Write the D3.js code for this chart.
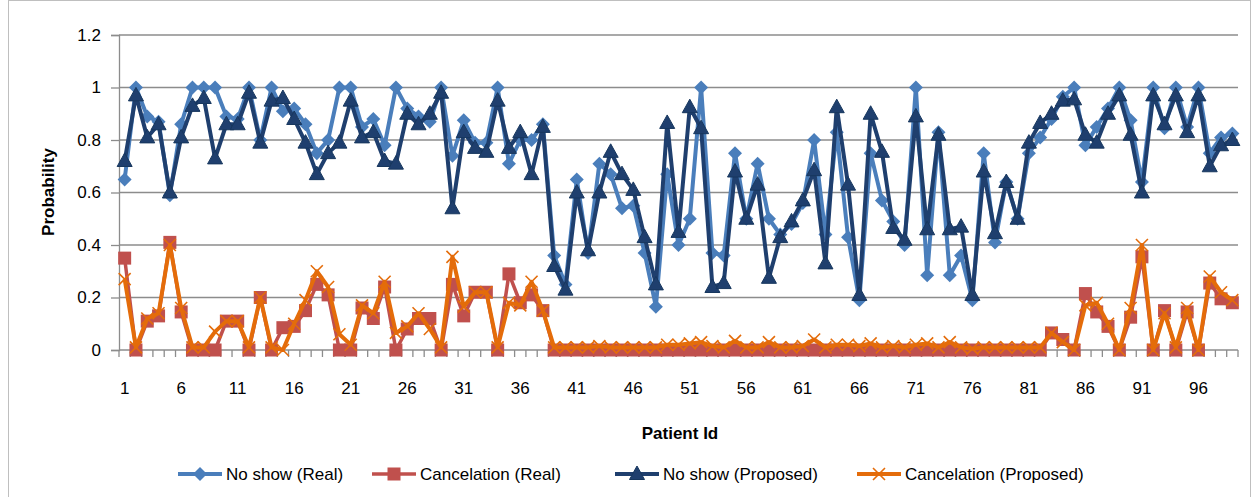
<!DOCTYPE html>
<html lang="en">
<head>
    <meta charset="UTF-8">
    <title>Probability by patient</title>
    <script src="https://d3js.org/d3.v7.min.js"></script>
    <style>
        body { margin: 0; background: #fff; }
        svg { display: block; font-family: "Liberation Sans", Arial, sans-serif; }
        .grid line { stroke: #8c8c8c; stroke-width: 1.3; }
        .axis path, .axis line { stroke: #8c8c8c; stroke-width: 1.3; }
        .axis text { font-size: 17px; fill: #000; }
        .title { font-weight: bold; font-size: 17px; }
        .legend text { font-size: 17px; }
    </style>
</head>
<body>
<script>
    const width = 1252;
    const height = 497;

    // patient ids 1..99
    const patients = d3.range(1, 100);

    const noShowReal = [
        0.65, 1.0, 0.89, 0.87, 0.59, 0.86, 1.0, 1.0, 1.0, 0.89,
        0.88, 1.0, 0.80, 1.0, 0.91, 0.92, 0.86, 0.75, 0.80, 1.0,
        1.0, 0.85, 0.88, 0.78, 1.0, 0.92, 0.89, 0.87, 1.0, 0.74,
        0.875, 0.79, 0.79, 1.0, 0.71, 0.80, 0.80, 0.86, 0.36, 0.25,
        0.65, 0.37, 0.71, 0.67, 0.54, 0.55, 0.37, 0.165, 0.67, 0.40,
        0.50, 1.0, 0.37, 0.36, 0.75, 0.50, 0.71, 0.50, 0.44, 0.48,
        0.56, 0.80, 0.44, 0.83, 0.43, 0.19, 0.75, 0.57, 0.49, 0.40,
        1.0, 0.285, 0.83, 0.285, 0.36, 0.19, 0.75, 0.41, 0.64, 0.50,
        0.75, 0.81, 0.88, 0.965, 1.0, 0.78, 0.85, 0.92, 1.0, 0.875,
        0.64, 1.0, 0.845, 1.0, 0.85, 1.0, 0.75, 0.81, 0.825
    ];

    const cancelReal = [
        0.35, 0, 0.11, 0.13, 0.41, 0.145, 0, 0, 0, 0.11,
        0.11, 0, 0.20, 0, 0.085, 0.09, 0.15, 0.25, 0.21, 0,
        0, 0.16, 0.12, 0.24, 0, 0.08, 0.12, 0.12, 0, 0.25,
        0.13, 0.22, 0.22, 0, 0.29, 0.18, 0.21, 0.15, 0, 0,
        0, 0, 0, 0, 0, 0, 0, 0, 0, 0,
        0, 0, 0, 0, 0, 0, 0, 0, 0, 0,
        0, 0, 0, 0, 0, 0, 0, 0, 0, 0,
        0, 0, 0, 0, 0, 0, 0, 0, 0, 0,
        0, 0, 0.065, 0.04, 0, 0.215, 0.145, 0.09, 0, 0.125,
        0.355, 0, 0.15, 0, 0.145, 0, 0.255, 0.195, 0.18
    ];

    const noShowProposed = [
        0.72, 0.97, 0.81, 0.86, 0.60, 0.81, 0.93, 0.96, 0.73, 0.86,
        0.86, 0.98, 0.79, 0.95, 0.96, 0.88, 0.79, 0.67, 0.75, 0.79,
        0.95, 0.81, 0.83, 0.72, 0.71, 0.90, 0.86, 0.90, 0.98, 0.54,
        0.83, 0.77, 0.755, 0.95, 0.77, 0.83, 0.67, 0.85, 0.32, 0.23,
        0.60, 0.38, 0.60, 0.755, 0.67, 0.61, 0.43, 0.25, 0.865, 0.45,
        0.925, 0.845, 0.24, 0.255, 0.68, 0.50, 0.63, 0.275, 0.43, 0.49,
        0.57, 0.685, 0.33, 0.925, 0.63, 0.21, 0.90, 0.755, 0.465, 0.42,
        0.89, 0.46, 0.82, 0.46, 0.47, 0.21, 0.68, 0.445, 0.64, 0.50,
        0.79, 0.865, 0.90, 0.95, 0.955, 0.82, 0.79, 0.90, 0.97, 0.82,
        0.60, 0.97, 0.86, 0.97, 0.83, 0.97, 0.70, 0.78, 0.80
    ];

    const cancelProposed = [
        0.27, 0.01, 0.12, 0.14, 0.40, 0.16, 0.01, 0.01, 0.07, 0.11,
        0.11, 0.01, 0.20, 0.01, 0.0, 0.10, 0.19, 0.30, 0.24, 0.06,
        0.02, 0.17, 0.14, 0.26, 0.065, 0.09, 0.14, 0.08, 0.01, 0.355,
        0.165, 0.22, 0.22, 0.01, 0.18, 0.17, 0.26, 0.15, 0.01, 0.01,
        0.01, 0.01, 0.015, 0.01, 0.01, 0.01, 0.01, 0.01, 0.02, 0.02,
        0.025, 0.03, 0.015, 0.01, 0.035, 0.01, 0.01, 0.03, 0.01, 0.01,
        0.015, 0.04, 0.01, 0.02, 0.02, 0.015, 0.025, 0.01, 0.015, 0.01,
        0.02, 0.025, 0.01, 0.03, 0.01, 0.005, 0.01, 0.01, 0.01, 0.01,
        0.01, 0.01, 0.065, 0.03, 0.0, 0.17, 0.18, 0.10, 0.0, 0.16,
        0.40, 0.0, 0.14, 0.01, 0.16, 0.0, 0.28, 0.22, 0.19
    ];

    const yTicks = [0, 0.2, 0.4, 0.6, 0.8, 1, 1.2];
    const xTickLabels = patients.filter(p => p % 5 === 1);

    const series = [
        {name: "No show (Real)", values: noShowReal, color: "#4a7ebb", marker: "diamond", lw: 4},
        {name: "Cancelation (Real)", values: cancelReal, color: "#c0504d", marker: "square", lw: 3.5},
        {name: "No show (Proposed)", values: noShowProposed, color: "#1f3f6e", marker: "triangle", lw: 4},
        {name: "Cancelation (Proposed)", values: cancelProposed, color: "#e46c0a", marker: "cross", lw: 4}
    ];

    const svg = d3.select("body").append("svg")
        .attr("width", width).attr("height", height);

    // chart frame
    svg.append("rect")
        .attr("x", 8.5).attr("y", 0.5)
        .attr("width", width - 10).attr("height", height + 5)
        .attr("fill", "none").attr("stroke", "#bfbfbf");

    const plot = {left: 119, right: 1238, top: 35, bottom: 350};

    const x = d3.scaleBand().domain(patients).range([plot.left, plot.right]);
    const y = d3.scaleLinear().domain([0, 1.2]).range([plot.bottom, plot.top]);
    const cx = d => x(d) + x.bandwidth() / 2;

    // gridlines
    svg.append("g").attr("class", "grid")
        .selectAll("line").data(yTicks.filter(t => t > 0)).enter()
        .append("line")
        .attr("x1", plot.left).attr("x2", plot.right)
        .attr("y1", d => y(d)).attr("y2", d => y(d));

    // y axis
    const yAxis = svg.append("g").attr("class", "axis")
        .attr("transform", `translate(${plot.left},0)`)
        .call(d3.axisLeft(y).tickValues(yTicks).tickSize(8).tickPadding(10)
            .tickFormat(d => d3.format("")(+d.toFixed(1))));

    // x axis: ticks at category boundaries, labels every 5th
    const xg = svg.append("g").attr("class", "axis");
    xg.append("line")
        .attr("x1", plot.left).attr("x2", plot.right)
        .attr("y1", plot.bottom).attr("y2", plot.bottom);
    xg.selectAll("line.tk").data(patients.concat([100])).enter()
        .append("line").attr("class", "tk")
        .attr("x1", d => d === 100 ? plot.right : x(d))
        .attr("x2", d => d === 100 ? plot.right : x(d))
        .attr("y1", plot.bottom).attr("y2", plot.bottom + 7);
    xg.selectAll("text").data(xTickLabels).enter()
        .append("text")
        .attr("x", cx).attr("y", 394)
        .attr("text-anchor", "middle")
        .text(d => d);

    svg.append("text").attr("class", "title")
        .attr("transform", "translate(54,192) rotate(-90)")
        .attr("text-anchor", "middle")
        .text("Probability");

    svg.append("text").attr("class", "title")
        .attr("x", 680).attr("y", 439)
        .attr("text-anchor", "middle")
        .text("Patient Id");

    function drawMarker(g, type, color) {
        if (type === "diamond") {
            g.append("path").attr("d", "M0,-7L7,0L0,7L-7,0Z").attr("fill", color);
        } else if (type === "square") {
            g.append("rect").attr("x", -6.5).attr("y", -6.5).attr("width", 13).attr("height", 13)
                .attr("fill", color);
        } else if (type === "triangle") {
            g.append("path").attr("d", "M0,-8L7.5,5.5L-7.5,5.5Z").attr("fill", color)
                .attr("stroke", "#17375e").attr("stroke-width", 1);
        } else {
            g.append("path").attr("d", "M-6,-6L6,6M-6,6L6,-6")
                .attr("stroke", color).attr("stroke-width", 1.6).attr("fill", "none");
        }
    }

    const line = d3.line().x((d, i) => cx(patients[i])).y(d => y(d));

    series.forEach(s => {
        const g = svg.append("g");
        g.append("path")
            .attr("d", line(s.values))
            .attr("fill", "none")
            .attr("stroke", s.color)
            .attr("stroke-width", s.lw)
            .attr("stroke-linejoin", "round");
        g.selectAll("g.m").data(s.values).enter()
            .append("g").attr("class", "m")
            .attr("transform", (d, i) => `translate(${cx(patients[i])},${y(d)})`)
            .each(function() { drawMarker(d3.select(this), s.marker, s.color); });
    });

    // legend
    const legendX = [178, 372, 615, 857];
    const legend = svg.append("g").attr("class", "legend");
    series.forEach((s, i) => {
        const g = legend.append("g").attr("transform", `translate(${legendX[i]},474)`);
        g.append("line").attr("x1", 0).attr("x2", 44)
            .attr("stroke", s.color).attr("stroke-width", s.lw);
        drawMarker(g.append("g").attr("transform", "translate(22,0)"), s.marker, s.color);
        g.append("text").attr("x", 48).attr("y", 6).text(s.name);
    });
</script>
</body>
</html>
